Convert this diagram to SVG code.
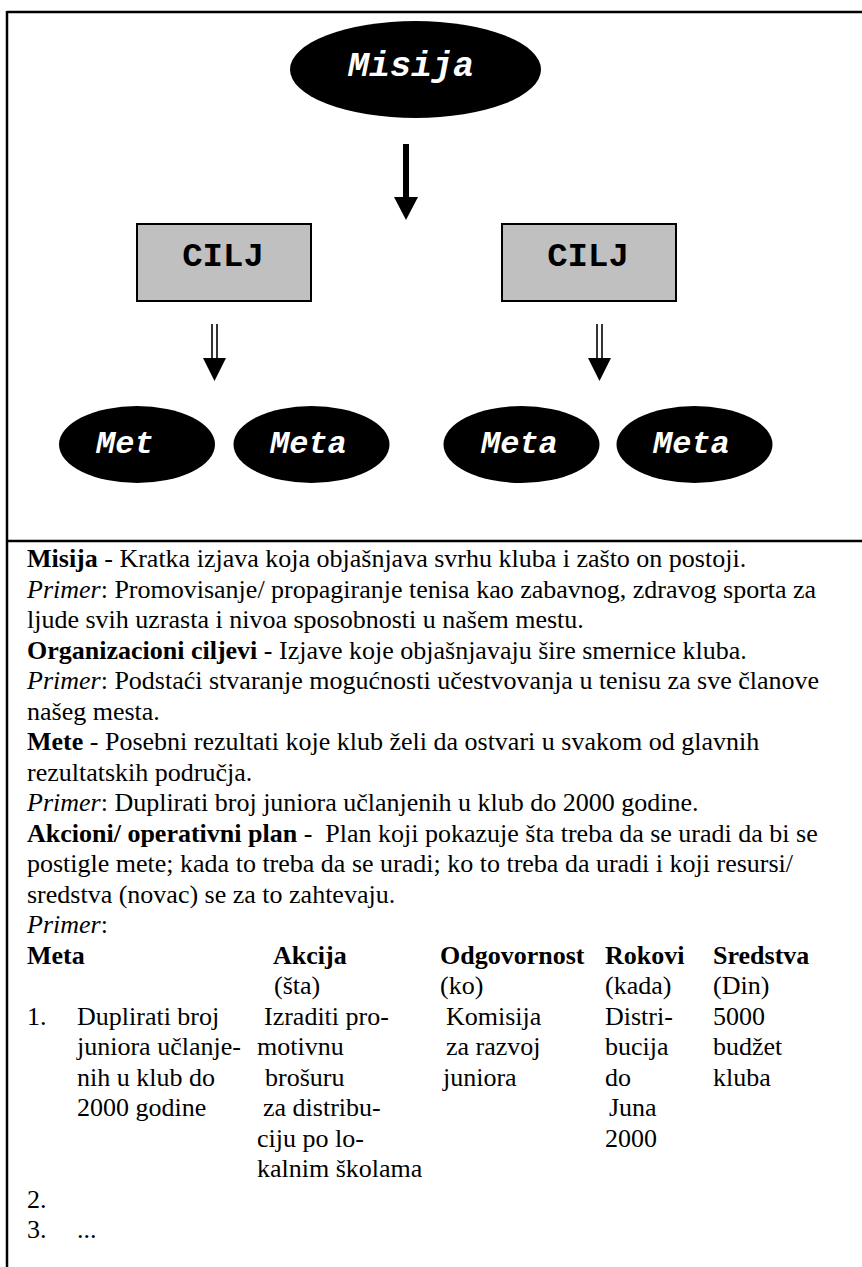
<svg xmlns="http://www.w3.org/2000/svg" width="862" height="1267" viewBox="0 0 862 1267">
<style>
.frame{stroke:#000;stroke-width:2.5;fill:none}
.oval{fill:#000}
.box{fill:#c0c0c0;stroke:#000;stroke-width:2}
.mono{font-family:"Liberation Mono","Courier New",monospace;font-weight:bold}
.ov{fill:#fff;font-style:italic;font-size:32px}
.cilj{fill:#000;font-size:34px}
.t{font-family:"Liberation Serif","Times New Roman",serif;font-size:26px;fill:#000}
.t text{white-space:pre}
.b{font-weight:bold}
.i{font-style:italic}
.dbl{stroke:#000;stroke-width:1.6}
</style>
<rect width="862" height="1267" fill="#fff"/>
<g id="frame">
<line class="frame" x1="7" y1="12" x2="862" y2="12"/>
<line class="frame" x1="7" y1="11" x2="7" y2="1267"/>
<line class="frame" x1="7" y1="541" x2="862" y2="541"/>
</g>
<g id="misija">
<ellipse class="oval" cx="415.5" cy="69.5" rx="125.5" ry="48.5"/>
<text class="mono ov" x="348" y="76" style="font-size:35px">Misija</text>
</g>
<g id="cilj1">
<rect class="box" x="137" y="224" width="174" height="77"/>
<text class="mono cilj" x="223" y="266" text-anchor="middle">CILJ</text>
</g>
<g id="cilj2">
<rect class="box" x="502" y="224" width="174" height="77"/>
<text class="mono cilj" x="588" y="266" text-anchor="middle">CILJ</text>
</g>
<g id="meta1">
<ellipse class="oval" cx="137" cy="444.5" rx="78" ry="38.5"/>
<text class="mono ov" x="96" y="453">Met</text>
</g>
<g id="meta2">
<ellipse class="oval" cx="311.5" cy="444.5" rx="78" ry="38.5"/>
<text class="mono ov" x="270" y="453">Meta</text>
</g>
<g id="meta3">
<ellipse class="oval" cx="521.5" cy="444.5" rx="78" ry="38.5"/>
<text class="mono ov" x="481" y="453">Meta</text>
</g>
<g id="meta4">
<ellipse class="oval" cx="694.5" cy="444.5" rx="78" ry="38.5"/>
<text class="mono ov" x="653" y="453">Meta</text>
</g>
<g id="connectors">
<rect x="403" y="144" width="6" height="54" fill="#000"/>
<polygon points="394,197 418,197 406,220" fill="#000"/>
<line class="dbl" x1="212" y1="324" x2="212" y2="359"/>
<line class="dbl" x1="217" y1="324" x2="217" y2="359"/>
<polygon points="203,358 226,358 214.5,381" fill="#000"/>
<line class="dbl" x1="597" y1="324" x2="597" y2="359"/>
<line class="dbl" x1="602" y1="324" x2="602" y2="359"/>
<polygon points="588,358 611,358 599.5,381" fill="#000"/>
</g>
<g id="text" class="t">
<text x="27" y="567"><tspan class="b">Misija</tspan> - Kratka izjava koja objašnjava svrhu kluba i zašto on postoji.</text>
<text x="27" y="597.5"><tspan class="i">Primer</tspan>: Promovisanje/ propagiranje tenisa kao zabavnog, zdravog sporta za</text>
<text x="27" y="628">ljude svih uzrasta i nivoa sposobnosti u našem mestu.</text>
<text x="27" y="658.5"><tspan class="b">Organizacioni ciljevi</tspan> - Izjave koje objašnjavaju šire smernice kluba.</text>
<text x="27" y="689"><tspan class="i">Primer</tspan>: Podstaći stvaranje mogućnosti učestvovanja u tenisu za sve članove</text>
<text x="27" y="719.5">našeg mesta.</text>
<text x="27" y="750"><tspan class="b">Mete</tspan> - Posebni rezultati koje klub želi da ostvari u svakom od glavnih</text>
<text x="27" y="780.5">rezultatskih područja.</text>
<text x="27" y="811"><tspan class="i">Primer</tspan>: Duplirati broj juniora učlanjenih u klub do 2000 godine.</text>
<text x="27" y="841.5"><tspan class="b">Akcioni/ operativni plan</tspan> -  Plan koji pokazuje šta treba da se uradi da bi se</text>
<text x="27" y="872">postigle mete; kada to treba da se uradi; ko to treba da uradi i koji resursi/</text>
<text x="27" y="902.5">sredstva (novac) se za to zahtevaju.</text>
<text x="27" y="933"><tspan class="i">Primer</tspan>:</text>
</g>
<g id="table" class="t">
<text x="27" y="963.5" class="b">Meta</text>
<text x="273" y="963.5" class="b">Akcija</text>
<text x="440" y="963.5" class="b">Odgovornost</text>
<text x="605" y="963.5" class="b">Rokovi</text>
<text x="713" y="963.5" class="b">Sredstva</text>
<text x="274" y="994">(šta)</text>
<text x="440" y="994">(ko)</text>
<text x="605" y="994">(kada)</text>
<text x="713" y="994">(Din)</text>
<text x="27" y="1024.5">1.</text>
<text x="77" y="1024.5">Duplirati broj</text>
<text x="77" y="1055">juniora učlanje-</text>
<text x="77" y="1085.5">nih u klub do</text>
<text x="77" y="1116">2000 godine</text>
<text x="264" y="1024.5">Izraditi pro-</text>
<text x="257" y="1055">motivnu</text>
<text x="265" y="1085.5">brošuru</text>
<text x="263" y="1116">za distribu-</text>
<text x="257" y="1146.5">ciju po lo-</text>
<text x="257" y="1177">kalnim školama</text>
<text x="446" y="1024.5">Komisija</text>
<text x="446" y="1055">za razvoj</text>
<text x="443" y="1085.5">juniora</text>
<text x="605" y="1024.5">Distri-</text>
<text x="605" y="1055">bucija</text>
<text x="605" y="1085.5">do</text>
<text x="609" y="1116">Juna</text>
<text x="605" y="1146.5">2000</text>
<text x="713" y="1024.5">5000</text>
<text x="713" y="1055">budžet</text>
<text x="713" y="1085.5">kluba</text>
<text x="27" y="1207.5">2.</text>
<text x="27" y="1238">3.</text>
<text x="77" y="1238">...</text>
</g>
</svg>
